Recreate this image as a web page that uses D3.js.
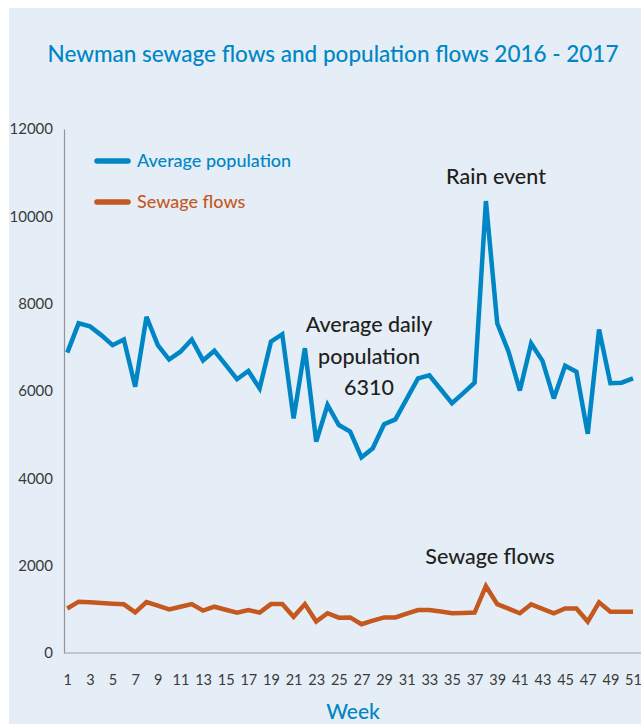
<!DOCTYPE html>
<html>
<head>
<meta charset="utf-8">
<script src="https://cdn.jsdelivr.net/npm/d3@7/dist/d3.min.js"></script>
<style>
  html, body { margin: 0; padding: 0; background: #fff; }
  svg { display: block; }
  text { font-family: Lato, "Open Sans", sans-serif; }
</style>
</head>
<body>
<svg id="chart" width="641" height="724"></svg>
<script>
// Weekly figures, week 1 to week 51
const weeks = d3.range(1, 52);
const population = [
  6880, 7550, 7480, 7280, 7050, 7180, 6100, 7700, 7050, 6720,
  6900, 7180, 6700, 6920, 6600, 6270, 6460, 6060, 7130, 7300,
  5370, 6980, 4840, 5680, 5220, 5070, 4480, 4690, 5240, 5350,
  5820, 6290, 6360, 6040, 5720, 5950, 6190, 10350, 7550, 6900,
  6010, 7090, 6690, 5830, 6580, 6440, 5020, 7410, 6180, 6190,
  6290
];
const sewage = [
  1020, 1175, 1160, 1145, 1130, 1115, 930, 1168, 1085, 1000,
  1060, 1120, 970, 1060, 990, 925, 985, 925, 1120, 1120,
  830, 1120, 720, 910, 810, 815, 660, 740, 815, 815,
  900, 985, 985, 950, 910, 915, 925, 1530, 1120, 1015,
  910, 1115, 1010, 910, 1020, 1020, 720, 1160, 946, 946,
  946
];
const yTicks = [0, 2000, 4000, 6000, 8000, 10000, 12000];
const xTicks = weeks.filter(w => w % 2 === 1);

const seriesNames = ["Average population", "Sewage flows"];
const seriesColors = ["#0086c4", "#c4581f"];

const svg = d3.select("#chart");

// background panel
svg.append("rect")
  .attr("x", 9).attr("y", 8)
  .attr("width", 632).attr("height", 716)
  .attr("fill", "#e5eef6");

svg.append("text")
  .attr("x", 333).attr("y", 62)
  .attr("text-anchor", "middle")
  .attr("fill", "#0086c4")
  .attr("font-size", 22.5)
  .attr("font-weight", 500)
  .text("Newman sewage flows and population flows 2016 - 2017");

const x = d3.scaleLinear().domain([1, 51]).range([67.3, 633]);
const y = d3.scaleLinear().domain([0, 12000]).range([653, 129]);

// axes
const yAxis = d3.axisLeft(y).tickValues(yTicks).tickFormat(d3.format("d")).tickSize(0).tickPadding(11);
const gy = svg.append("g").attr("transform", "translate(64,0)").call(yAxis);
gy.select(".domain").attr("stroke", "#8f959b").attr("stroke-width", 1.2);
gy.selectAll("text").attr("fill", "#3a3a3a").attr("font-size", 15).attr("font-family", "Lato, sans-serif");

const xAxis = d3.axisBottom(x).tickValues(xTicks).tickFormat(d3.format("d")).tickSize(0).tickPadding(22);
const gx = svg.append("g").attr("transform", "translate(0,653)").call(xAxis);
gx.select(".domain").remove();
gx.selectAll("text").attr("fill", "#3a3a3a").attr("font-size", 14.5).attr("font-family", "Lato, sans-serif");
svg.append("line")
  .attr("x1", 64).attr("x2", 641)
  .attr("y1", y(0)).attr("y2", y(0))
  .attr("stroke", "#9aa0a6").attr("stroke-width", 1.2);

svg.append("text")
  .attr("x", 353).attr("y", 719)
  .attr("text-anchor", "middle")
  .attr("fill", "#0086c4")
  .attr("font-size", 21)
  .attr("font-weight", 500)
  .text("Week");

// series lines
const line = d3.line().x((d, i) => x(weeks[i])).y(d => y(d));
[population, sewage].forEach((vals, k) => {
  svg.append("path")
    .datum(vals)
    .attr("d", line)
    .attr("fill", "none")
    .attr("stroke", seriesColors[k])
    .attr("stroke-width", 4.5)
    .attr("stroke-linejoin", "miter")
    .attr("stroke-miterlimit", 3);
});

// legend
const legend = svg.append("g");
seriesNames.forEach((name, k) => {
  const ly = 161 + k * 41;
  legend.append("line")
    .attr("x1", 97).attr("x2", 128)
    .attr("y1", ly).attr("y2", ly)
    .attr("stroke", seriesColors[k])
    .attr("stroke-width", 5.5)
    .attr("stroke-linecap", "round");
  legend.append("text")
    .attr("x", 137).attr("y", ly + 6)
    .attr("fill", seriesColors[k])
    .attr("font-size", 18)
    .attr("font-weight", 500)
    .text(name);
});

// annotations
const noteColor = "#231f20";
const noteSize = 21.5;
svg.append("text")
  .attr("x", 496).attr("y", 184)
  .attr("text-anchor", "middle")
  .attr("fill", noteColor)
  .attr("font-size", noteSize)
  .attr("font-weight", 500)
  .text("Rain event");

const avg = svg.append("text")
  .attr("text-anchor", "middle")
  .attr("fill", noteColor)
  .attr("font-size", noteSize)
  .attr("font-weight", 500);
["Average daily", "population", "6310"].forEach((t, i) => {
  avg.append("tspan").attr("x", 369).attr("y", 332 + i * 31.7).text(t);
});

svg.append("text")
  .attr("x", 490).attr("y", 564)
  .attr("text-anchor", "middle")
  .attr("fill", noteColor)
  .attr("font-size", noteSize)
  .attr("font-weight", 500)
  .text("Sewage flows");
</script>
</body>
</html>
